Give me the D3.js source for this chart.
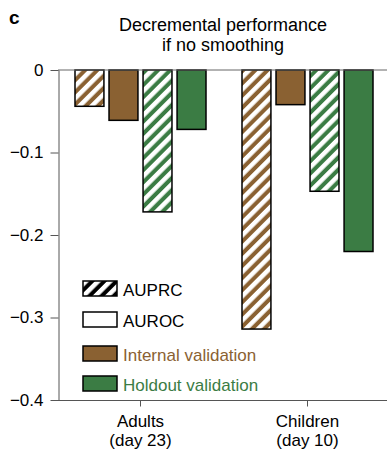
<!DOCTYPE html>
<html>
<head>
<meta charset="utf-8">
<script src="https://cdn.jsdelivr.net/npm/d3@7"></script>
<style>
  body { margin: 0; background: #fff; }
  svg { display: block; font-family: "Liberation Sans", Arial, sans-serif; }
</style>
</head>
<body>
<div class="chart"></div>
<script>
// data
var groups = ['Adults', 'Children'];
var groupSub = ['(day 23)', '(day 10)'];
var series = ['internalAUPRC', 'internalAUROC', 'holdoutAUPRC', 'holdoutAUROC'];
var internalAUPRC = [-0.044, -0.314];
var internalAUROC = [-0.061, -0.042];
var holdoutAUPRC = [-0.172, -0.147];
var holdoutAUROC = [-0.072, -0.220];
var yTicks = [0, -0.1, -0.2, -0.3, -0.4];
var legendItems = ['AUPRC', 'AUROC', 'Internal validation', 'Holdout validation'];

var width = 387,
  height = 452;

var brown = '#8a6132',
  green = '#3b7c44';

var svg = d3.select('.chart')
  .append('svg')
  .attr('width', width)
  .attr('height', height);

var defs = svg.append('defs');
function hatch(id, col) {
  var p = defs.append('pattern')
    .attr('id', id)
    .attr('patternUnits', 'userSpaceOnUse')
    .attr('width', 8.6)
    .attr('height', 8.6)
    .attr('patternTransform', 'rotate(45)');
  p.append('rect').attr('width', 8.6).attr('height', 8.6).attr('fill', col);
  p.append('rect').attr('width', 4.5).attr('height', 8.6).attr('fill', '#fff');
}
hatch('hBrown', brown);
hatch('hGreen', green);
hatch('hBlack', '#000');

var rows = series.map(function(s) {
  var vals = {internalAUPRC: internalAUPRC, internalAUROC: internalAUROC,
    holdoutAUPRC: holdoutAUPRC, holdoutAUROC: holdoutAUROC}[s];
  return vals.map(function(v, i) { return {group: groups[i], key: s, value: v}; });
});
var data = d3.merge(rows);

// scales
var yScale = d3.scaleLinear()
  .domain([-0.4, 0])
  .range([400, 70]);

var xScale = d3.scaleBand()
  .domain(groups)
  .range([57, 391]);

var xInner = d3.scaleBand()
  .domain(series)
  .range([-65.5, 65.5])
  .paddingInner(0.15);

function fillOf(k) {
  if (k == 'internalAUPRC') return 'url(#hBrown)';
  if (k == 'internalAUROC') return brown;
  if (k == 'holdoutAUPRC') return 'url(#hGreen)';
  return green;
}

// bars
svg.selectAll('.bar')
  .data(data)
  .enter()
  .append('rect')
  .attr('class', 'bar')
  .attr('x', function(d) { return xScale(d.group) + xScale.bandwidth() / 2 + xInner(d.key); })
  .attr('width', xInner.bandwidth())
  .attr('y', yScale(0))
  .attr('height', function(d) { return yScale(d.value) - yScale(0); })
  .attr('fill', function(d) { return fillOf(d.key); })
  .attr('stroke', '#000')
  .attr('stroke-width', 1.5);

// zero line
svg.append('line')
  .attr('x1', 58).attr('x2', width)
  .attr('y1', yScale(0)).attr('y2', yScale(0))
  .attr('stroke', '#666').attr('stroke-width', 1);

// axes
var yAxis = d3.axisLeft(yScale)
  .tickValues(yTicks)
  .tickSize(8)
  .tickSizeOuter(0)
  .tickPadding(7)
  .tickFormat(function(d) { return d === 0 ? '0' : d3.format('.1f')(d); });

var yAxisG = svg.append('g')
  .attr('transform', 'translate(58.5,0)')
  .call(yAxis);

var xAxis = d3.axisBottom(xScale)
  .tickSize(6)
  .tickSizeOuter(0)
  .tickFormat('');

var xAxisG = svg.append('g')
  .attr('transform', 'translate(0,400.5)')
  .call(xAxis);

xAxisG.select('.domain').attr('d', 'M58,0H' + width);

svg.selectAll('.domain, .tick line').attr('stroke', '#555');
yAxisG.selectAll('text').attr('font-size', 17).attr('fill', '#000')
  .attr('font-family', '"Liberation Sans", Arial, sans-serif');

// x labels, two lines
groups.forEach(function(g, i) {
  var cx = xScale(g) + xScale.bandwidth() / 2;
  var t = svg.append('text')
    .attr('text-anchor', 'middle')
    .attr('font-size', 17);
  t.append('tspan').attr('x', cx).attr('y', 427).text(g);
  t.append('tspan').attr('x', cx).attr('y', 446).text(groupSub[i]);
});

// title
var title = svg.append('text')
  .attr('text-anchor', 'middle')
  .attr('font-size', 18);
title.append('tspan').attr('x', 223).attr('y', 31).text('Decremental performance');
title.append('tspan').attr('x', 223).attr('y', 51).text('if no smoothing');

// panel letter
svg.append('text')
  .attr('x', 9).attr('y', 24)
  .attr('font-size', 19)
  .attr('font-weight', 'bold')
  .text('c');

// legend
var legFill = ['url(#hBlack)', '#fff', brown, green];
var legText = ['#000', '#000', brown, green];
var legY = [281, 312, 346, 376];
var leg = svg.selectAll('.leg')
  .data(legendItems)
  .enter()
  .append('g')
  .attr('class', 'leg')
  .attr('transform', function(d, i) { return 'translate(83,' + legY[i] + ')'; });

leg.append('rect')
  .attr('width', 34)
  .attr('height', 15)
  .attr('fill', function(d, i) { return legFill[i]; })
  .attr('stroke', '#000')
  .attr('stroke-width', 1.5);

leg.append('text')
  .attr('x', 40)
  .attr('y', 15)
  .attr('font-size', 17)
  .attr('fill', function(d, i) { return legText[i]; })
  .text(function(d) { return d; });
</script>
</body>
</html>
